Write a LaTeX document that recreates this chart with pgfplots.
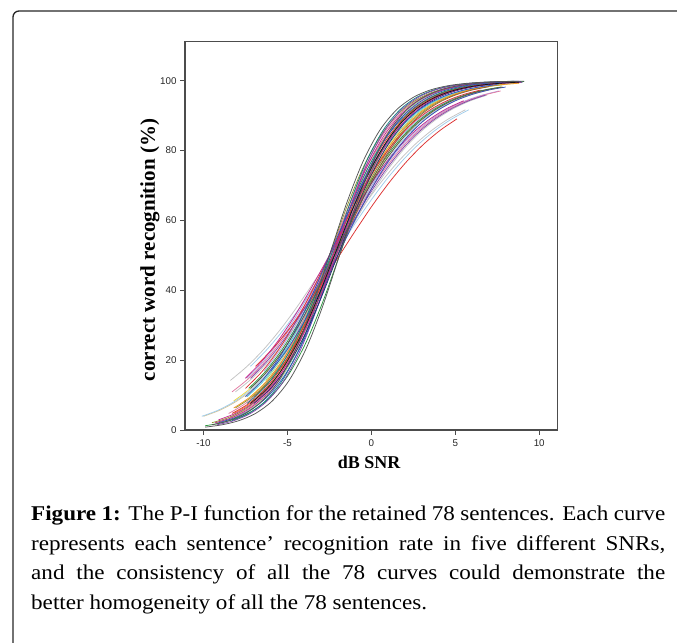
\documentclass[border=0pt]{standalone}
\usepackage{fontspec}
\setmainfont{Liberation Serif}
\newfontfamily\capfont{Liberation Serif}[FakeStretch=1.1]
\newfontfamily\arial{Liberation Sans}
\usepackage{pgfplots}
\pgfplotsset{compat=1.18}

% SPSS-like line colours
\definecolor{c1}{RGB}{220,50,50}
\definecolor{c2}{RGB}{40,150,60}
\definecolor{c3}{RGB}{50,80,190}
\definecolor{c4}{RGB}{130,70,170}
\definecolor{c5}{RGB}{20,20,20}
\definecolor{c6}{RGB}{85,85,85}
\definecolor{c7}{RGB}{235,215,70}
\definecolor{c8}{RGB}{80,200,215}
\definecolor{c9}{RGB}{225,120,160}
\definecolor{c10}{RGB}{175,165,225}
\definecolor{c11}{RGB}{20,130,130}
\definecolor{c12}{RGB}{240,150,40}
\definecolor{c13}{RGB}{140,150,50}
\definecolor{c14}{RGB}{215,195,145}
\definecolor{c15}{RGB}{160,205,235}
\definecolor{c16}{RGB}{160,215,140}
\definecolor{c17}{RGB}{150,90,50}
\definecolor{c18}{RGB}{195,40,140}
\definecolor{c19}{RGB}{195,195,195}
\definecolor{c20}{RGB}{40,45,110}

\begin{document}
\begin{tikzpicture}[x=1bp,y=1bp]
\useasboundingbox (0,0) rectangle (677,643);
\clip (0,0) rectangle (677,643);

% frame of the figure box
\draw[black!85, line width=1.3bp, rounded corners=6bp] (13,-10) -- (13,632) -- (700,632);

\begin{axis}[
  at={(185bp,213bp)}, anchor=south west,
  scale only axis, width=372.7bp, height=388.7bp,
  xmin=-11.1, xmax=11.1, ymin=0, ymax=111.3,
  xtick={-10,-5,0,5,10}, xticklabels={-10,-5,0,5,10},
  ytick={0,20,40,60,80,100}, yticklabels={0,20,40,60,80,100},
  tick align=outside, xtick pos=bottom, ytick pos=left,
  major tick length=5bp,
  axis line style={draw=black!70, line width=1.2bp},
  tick style={draw=black!70, line width=0.9bp},
  ticklabel style={font=\arial\fontsize{9.8bp}{11bp}\selectfont, text=black!85},
  xticklabel style={yshift=-1.5bp},
  xlabel={dB SNR},
  ylabel={correct word recognition (\%)},
  xlabel style={at={(axis description cs:0.494,-0.098)}, anchor=base,
    font=\bfseries\fontsize{18bp}{20bp}\selectfont},
  ylabel style={at={(axis description cs:-0.0805,0.463)}, anchor=base,
    font=\bfseries\fontsize{21bp}{23bp}\selectfont},
  every axis plot/.append style={line width=0.75bp, smooth},
]
% pale curves first
\addplot[c14] coordinates {(-10,3.92)(-9,5.73)(-8,8.32)(-7,11.92)(-6,16.80)(-5,23.15)(-4,31.01)(-3,40.13)(-2,50)(-1,59.87)(0,68.99)(1,76.85)(2,83.20)(3,88.08)(4,91.68)(5,94.27)(6,96.08)(7,97.34)};
\addplot[c15] coordinates {(-10.1,3.92)(-9.1,5.73)(-8.1,8.32)(-7.1,11.92)(-6.1,16.80)(-5.1,23.15)(-4.1,31.01)(-3.1,40.13)(-2.1,50)(-1.1,59.87)(-0.1,68.99)(0.9,76.85)(1.9,83.20)(2.9,88.08)(3.9,91.68)(4.9,94.27)(5.9,96.08)(6.9,97.34)};
\addplot[c19] coordinates {(-8.4,14.19)(-7.4,18.24)(-6.4,23.15)(-5.4,28.91)(-4.4,35.43)(-3.4,42.56)(-2.4,50)(-1.4,57.44)(-0.4,64.57)(0.6,71.09)(1.6,76.85)(2.6,81.76)(3.6,85.81)(4.6,89.09)(5.6,91.68)};
\addplot[c15] coordinates {(-7.2,18.24)(-6.2,23.15)(-5.2,28.91)(-4.2,35.43)(-3.2,42.56)(-2.2,50)(-1.2,57.44)(-0.2,64.57)(0.8,71.09)(1.8,76.85)(2.8,81.76)(3.8,85.81)(4.8,89.09)(5.8,91.68)};
\addplot[c19] coordinates {(-8.1,10.91)(-7.1,14.80)(-6.1,19.78)(-5.1,25.92)(-4.1,33.18)(-3.1,41.34)(-2.1,50)(-1.1,58.66)(-0.1,66.82)(0.9,74.08)(1.9,80.22)(2.9,85.20)(3.9,89.09)(4.9,92.06)(5.9,94.27)(6.9,95.89)};
\addplot[c10] coordinates {(-6.4,16.80)(-5.4,23.15)(-4.4,31.01)(-3.4,40.13)(-2.4,50)(-1.4,59.87)(-0.4,68.99)(0.6,76.85)(1.6,83.20)(2.6,88.08)(3.6,91.68)(4.6,94.27)(5.6,96.08)(6.6,97.34)};
\addplot[c10] coordinates {(-7.4,14.80)(-6.4,19.78)(-5.4,25.92)(-4.4,33.18)(-3.4,41.34)(-2.4,50)(-1.4,58.66)(-0.4,66.82)(0.6,74.08)(1.6,80.22)(2.6,85.20)(3.6,89.09)(4.6,92.06)(5.6,94.27)(6.6,95.89)(7.6,97.07)};
\addplot[c16] coordinates {(-6.3,14.19)(-5.3,20.59)(-4.3,28.91)(-3.3,38.94)(-2.3,50)(-1.3,61.06)(-0.3,71.09)(0.7,79.41)(1.7,85.81)(2.7,90.47)(3.7,93.70)(4.7,95.89)(5.7,97.34)(6.7,98.29)(7.7,98.90)};
\addplot[c16] coordinates {(-9.2,2.08)(-8.2,3.56)(-7.2,6.01)(-6.2,9.98)(-5.2,16.11)(-4.2,24.97)(-3.2,36.59)(-2.2,50)(-1.2,63.41)(-0.2,75.03)(0.8,83.89)(1.8,90.02)(2.8,93.99)(3.8,96.44)(4.8,97.92)(5.8,98.79)(6.8,99.30)(7.8,99.59)(8.8,99.76)};
\addplot[c7] coordinates {(-8.2,8.32)(-7.2,11.92)(-6.2,16.80)(-5.2,23.15)(-4.2,31.01)(-3.2,40.13)(-2.2,50)(-1.2,59.87)(-0.2,68.99)(0.8,76.85)(1.8,83.20)(2.8,88.08)(3.8,91.68)(4.8,94.27)(5.8,96.08)(6.8,97.34)(7.8,98.20)};
\addplot[c7] coordinates {(-7.2,9.53)(-6.2,14.19)(-5.2,20.59)(-4.2,28.91)(-3.2,38.94)(-2.2,50)(-1.2,61.06)(-0.2,71.09)(0.8,79.41)(1.8,85.81)(2.8,90.47)(3.8,93.70)(4.8,95.89)(5.8,97.34)(6.8,98.29)(7.8,98.90)(8.8,99.30)};
\addplot[c8] coordinates {(-7.4,9.53)(-6.4,14.19)(-5.4,20.59)(-4.4,28.91)(-3.4,38.94)(-2.4,50)(-1.4,61.06)(-0.4,71.09)(0.6,79.41)(1.6,85.81)(2.6,90.47)(3.6,93.70)(4.6,95.89)(5.6,97.34)(6.6,98.29)(7.6,98.90)};
\addplot[c9] coordinates {(-8.3,10.91)(-7.3,14.80)(-6.3,19.78)(-5.3,25.92)(-4.3,33.18)(-3.3,41.34)(-2.3,50)(-1.3,58.66)(-0.3,66.82)(0.7,74.08)(1.7,80.22)(2.7,85.20)(3.7,89.09)(4.7,92.06)(5.7,94.27)(6.7,95.89)(7.7,97.07)};
\addplot[c9] coordinates {(-8.5,4.74)(-7.5,7.59)(-6.5,11.92)(-5.5,18.24)(-4.5,26.89)(-3.5,37.75)(-2.5,50)(-1.5,62.25)(-0.5,73.11)(0.5,81.76)(1.5,88.08)(2.5,92.41)(3.5,95.26)(4.5,97.07)(5.5,98.20)(6.5,98.90)(7.5,99.33)};
\addplot[c9] coordinates {(-8.4,3.56)(-7.4,6.01)(-6.4,9.98)(-5.4,16.11)(-4.4,24.97)(-3.4,36.59)(-2.4,50)(-1.4,63.41)(-0.4,75.03)(0.6,83.89)(1.6,90.02)(2.6,93.99)(3.6,96.44)(4.6,97.92)(5.6,98.79)(6.6,99.30)(7.6,99.59)(8.6,99.76)};
% saturated curves
\addplot[c2] coordinates {(-7.3,11.92)(-6.3,16.80)(-5.3,23.15)(-4.3,31.01)(-3.3,40.13)(-2.3,50)(-1.3,59.87)(-0.3,68.99)(0.7,76.85)(1.7,83.20)(2.7,88.08)(3.7,91.68)(4.7,94.27)(5.7,96.08)(6.7,97.34)(7.7,98.20)};
\addplot[c2] coordinates {(-9.9,1.21)(-8.9,2.08)(-7.9,3.56)(-6.9,6.01)(-5.9,9.98)(-4.9,16.11)(-3.9,24.97)(-2.9,36.59)(-1.9,50)(-0.9,63.41)(0.1,75.03)(1.1,83.89)(2.1,90.02)(3.1,93.99)(4.1,96.44)(5.1,97.92)(6.1,98.79)(7.1,99.30)(8.1,99.59)(9.1,99.76)};
\addplot[c13] coordinates {(-8.1,6.30)(-7.1,9.53)(-6.1,14.19)(-5.1,20.59)(-4.1,28.91)(-3.1,38.94)(-2.1,50)(-1.1,61.06)(-0.1,71.09)(0.9,79.41)(1.9,85.81)(2.9,90.47)(3.9,93.70)(4.9,95.89)(5.9,97.34)(6.9,98.29)(7.9,98.90)};
\addplot[c13] coordinates {(-9.5,2.08)(-8.5,3.56)(-7.5,6.01)(-6.5,9.98)(-5.5,16.11)(-4.5,24.97)(-3.5,36.59)(-2.5,50)(-1.5,63.41)(-0.5,75.03)(0.5,83.89)(1.5,90.02)(2.5,93.99)(3.5,96.44)(4.5,97.92)(5.5,98.79)(6.5,99.30)(7.5,99.59)};
\addplot[c12] coordinates {(-8.2,6.30)(-7.2,9.53)(-6.2,14.19)(-5.2,20.59)(-4.2,28.91)(-3.2,38.94)(-2.2,50)(-1.2,61.06)(-0.2,71.09)(0.8,79.41)(1.8,85.81)(2.8,90.47)(3.8,93.70)(4.8,95.89)(5.8,97.34)(6.8,98.29)(7.8,98.90)(8.8,99.30)};
\addplot[c12] coordinates {(-8.2,4.74)(-7.2,7.59)(-6.2,11.92)(-5.2,18.24)(-4.2,26.89)(-3.2,37.75)(-2.2,50)(-1.2,62.25)(-0.2,73.11)(0.8,81.76)(1.8,88.08)(2.8,92.41)(3.8,95.26)(4.8,97.07)(5.8,98.20)(6.8,98.90)(7.8,99.33)};
\addplot[c17] coordinates {(-7,9.53)(-6,14.19)(-5,20.59)(-4,28.91)(-3,38.94)(-2,50)(-1,61.06)(0,71.09)(1,79.41)(2,85.81)(3,90.47)(4,93.70)(5,95.89)(6,97.34)(7,98.29)};
\addplot[c11] coordinates {(-7.4,7.59)(-6.4,11.92)(-5.4,18.24)(-4.4,26.89)(-3.4,37.75)(-2.4,50)(-1.4,62.25)(-0.4,73.11)(0.6,81.76)(1.6,88.08)(2.6,92.41)(3.6,95.26)(4.6,97.07)(5.6,98.20)(6.6,98.90)(7.6,99.33)};
\addplot[c11] coordinates {(-8.3,2.66)(-7.3,4.74)(-6.3,8.32)(-5.3,14.19)(-4.3,23.15)(-3.3,35.43)(-2.3,50)(-1.3,64.57)(-0.3,76.85)(0.7,85.81)(1.7,91.68)(2.7,95.26)(3.7,97.34)(4.7,98.52)(5.7,99.18)(6.7,99.55)(7.7,99.75)(8.7,99.86)};
\addplot[c1] coordinates {(-7.5,11.92)(-6.5,16.80)(-5.5,23.15)(-4.5,31.01)(-3.5,40.13)(-2.5,50)(-1.5,59.87)(-0.5,68.99)(0.5,76.85)(1.5,83.20)(2.5,88.08)(3.5,91.68)(4.5,94.27)(5.5,96.08)(6.5,97.34)};
\addplot[c1] coordinates {(-8.3,4.74)(-7.3,7.59)(-6.3,11.92)(-5.3,18.24)(-4.3,26.89)(-3.3,37.75)(-2.3,50)(-1.3,62.25)(-0.3,73.11)(0.7,81.76)(1.7,88.08)(2.7,92.41)(3.7,95.26)(4.7,97.07)(5.7,98.20)(6.7,98.90)(7.7,99.33)(8.7,99.59)};
\addplot[c1] coordinates {(-6.9,18.24)(-5.9,23.15)(-4.9,28.91)(-3.9,35.43)(-2.9,42.56)(-1.9,50)(-0.9,57.44)(0.1,64.57)(1.1,71.09)(2.1,76.85)(3.1,81.76)(4.1,85.81)(5.1,89.09)};
\addplot[c4] coordinates {(-7.2,14.80)(-6.2,19.78)(-5.2,25.92)(-4.2,33.18)(-3.2,41.34)(-2.2,50)(-1.2,58.66)(-0.2,66.82)(0.8,74.08)(1.8,80.22)(2.8,85.20)(3.8,89.09)(4.8,92.06)(5.8,94.27)(6.8,95.89)};
\addplot[c4] coordinates {(-9.2,1.48)(-8.2,2.66)(-7.2,4.74)(-6.2,8.32)(-5.2,14.19)(-4.2,23.15)(-3.2,35.43)(-2.2,50)(-1.2,64.57)(-0.2,76.85)(0.8,85.81)(1.8,91.68)(2.8,95.26)(3.8,97.34)(4.8,98.52)(5.8,99.18)(6.8,99.55)(7.8,99.75)(8.8,99.86)};
\addplot[c18] coordinates {(-9.3,2.08)(-8.3,3.56)(-7.3,6.01)(-6.3,9.98)(-5.3,16.11)(-4.3,24.97)(-3.3,36.59)(-2.3,50)(-1.3,63.41)(-0.3,75.03)(0.7,83.89)(1.7,90.02)(2.7,93.99)(3.7,96.44)(4.7,97.92)(5.7,98.79)(6.7,99.30)(7.7,99.59)(8.7,99.76)};
\addplot[c18] coordinates {(-7.5,14.80)(-6.5,19.78)(-5.5,25.92)(-4.5,33.18)(-3.5,41.34)(-2.5,50)(-1.5,58.66)(-0.5,66.82)(0.5,74.08)(1.5,80.22)(2.5,85.20)(3.5,89.09)(4.5,92.06)(5.5,94.27)};
\addplot[c3] coordinates {(-9.1,2.08)(-8.1,3.56)(-7.1,6.01)(-6.1,9.98)(-5.1,16.11)(-4.1,24.97)(-3.1,36.59)(-2.1,50)(-1.1,63.41)(-0.1,75.03)(0.9,83.89)(1.9,90.02)(2.9,93.99)(3.9,96.44)(4.9,97.92)(5.9,98.79)(6.9,99.30)(7.9,99.59)(8.9,99.76)};
\addplot[c3] coordinates {(-6,16.80)(-5,23.15)(-4,31.01)(-3,40.13)(-2,50)(-1,59.87)(0,68.99)(1,76.85)(2,83.20)(3,88.08)(4,91.68)(5,94.27)(6,96.08)(7,97.34)(8,98.20)};
\addplot[c20] coordinates {(-7,7.59)(-6,11.92)(-5,18.24)(-4,26.89)(-3,37.75)(-2,50)(-1,62.25)(0,73.11)(1,81.76)(2,88.08)(3,92.41)(4,95.26)(5,97.07)(6,98.20)(7,98.90)(8,99.33)(9,99.59)};
\addplot[c3] coordinates {(-7.5,9.53)(-6.5,14.19)(-5.5,20.59)(-4.5,28.91)(-3.5,38.94)(-2.5,50)(-1.5,61.06)(-0.5,71.09)(0.5,79.41)(1.5,85.81)(2.5,90.47)(3.5,93.70)(4.5,95.89)(5.5,97.34)(6.5,98.29)(7.5,98.90)};
\addplot[c18] coordinates {(-9.1,2.93)(-8.1,4.74)(-7.1,7.59)(-6.1,11.92)(-5.1,18.24)(-4.1,26.89)(-3.1,37.75)(-2.1,50)(-1.1,62.25)(-0.1,73.11)(0.9,81.76)(1.9,88.08)(2.9,92.41)(3.9,95.26)(4.9,97.07)(5.9,98.20)(6.9,98.90)(7.9,99.33)(8.9,99.59)};
% dark curves on top
\addplot[c6] coordinates {(-7.2,11.92)(-6.2,16.80)(-5.2,23.15)(-4.2,31.01)(-3.2,40.13)(-2.2,50)(-1.2,59.87)(-0.2,68.99)(0.8,76.85)(1.8,83.20)(2.8,88.08)(3.8,91.68)(4.8,94.27)(5.8,96.08)(6.8,97.34)(7.8,98.20)};
\addplot[c5] coordinates {(-7.2,7.59)(-6.2,11.92)(-5.2,18.24)(-4.2,26.89)(-3.2,37.75)(-2.2,50)(-1.2,62.25)(-0.2,73.11)(0.8,81.76)(1.8,88.08)(2.8,92.41)(3.8,95.26)(4.8,97.07)(5.8,98.20)(6.8,98.90)(7.8,99.33)(8.8,99.59)};
\addplot[c6] coordinates {(-9.9,0.82)(-8.9,1.48)(-7.9,2.66)(-6.9,4.74)(-5.9,8.32)(-4.9,14.19)(-3.9,23.15)(-2.9,35.43)(-1.9,50)(-0.9,64.57)(0.1,76.85)(1.1,85.81)(2.1,91.68)(3.1,95.26)(4.1,97.34)(5.1,98.52)(6.1,99.18)(7.1,99.55)(8.1,99.75)(9.1,99.86)};
\addplot[c6] coordinates {(-9.5,1.48)(-8.5,2.66)(-7.5,4.74)(-6.5,8.32)(-5.5,14.19)(-4.5,23.15)(-3.5,35.43)(-2.5,50)(-1.5,64.57)(-0.5,76.85)(0.5,85.81)(1.5,91.68)(2.5,95.26)(3.5,97.34)(4.5,98.52)(5.5,99.18)(6.5,99.55)(7.5,99.75)(8.5,99.86)};
\end{axis}

% caption
\node[anchor=north west, inner sep=0pt] at (31,137) {\vbox{\capfont\fontsize{21bp}{29.5bp}\selectfont
  \hsize=634bp \baselineskip=29.5bp
  \hbox to\hsize{{\bfseries Figure 1:} The P-I function for the retained 78 sentences. Each curve}
  \hbox to\hsize{represents each sentence’ recognition rate in five different SNRs,}
  \hbox to\hsize{and the consistency of all the 78 curves could demonstrate the}
  \hbox{better homogeneity of all the 78 sentences.}}};
\end{tikzpicture}
\end{document}
